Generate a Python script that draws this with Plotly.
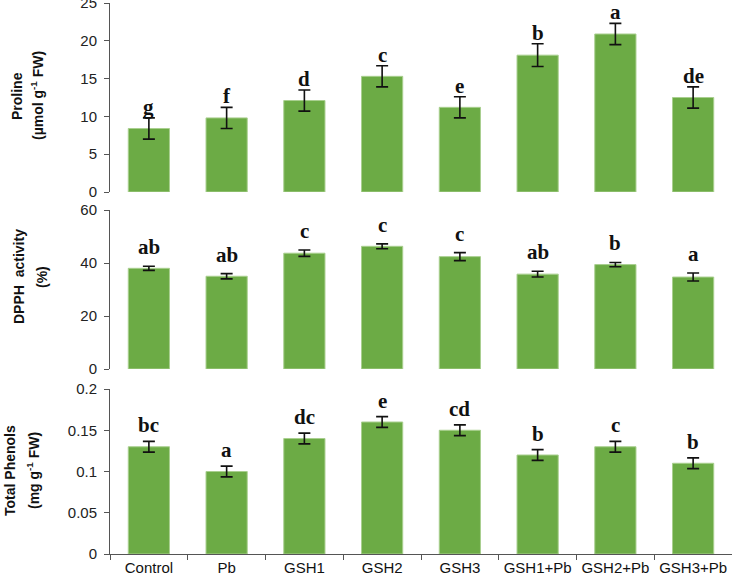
import plotly.graph_objects as go
from plotly.subplots import make_subplots

categories = ["Control", "Pb", "GSH1", "GSH2", "GSH3", "GSH1+Pb", "GSH2+Pb", "GSH3+Pb"]

proline = [8.4, 9.8, 12.1, 15.3, 11.2, 18.1, 20.9, 12.5]
proline_err = [1.4, 1.4, 1.4, 1.4, 1.4, 1.5, 1.4, 1.4]
proline_letters = ["g", "f", "d", "c", "e", "b", "a", "de"]

dpph = [38.0, 35.0, 43.7, 46.3, 42.4, 35.8, 39.4, 34.7]
dpph_err = [0.8, 1.0, 1.2, 0.9, 1.5, 1.1, 0.8, 1.5]
dpph_letters = ["ab", "ab", "c", "c", "c", "ab", "b", "a"]

phenols = [0.13, 0.10, 0.14, 0.16, 0.15, 0.12, 0.13, 0.11]
phenols_err = [0.0065, 0.0065, 0.0065, 0.0065, 0.0065, 0.0065, 0.0065, 0.0065]
phenols_letters = ["bc", "a", "dc", "e", "cd", "b", "c", "b"]

W, H = 732, 583
ml, mr, mt, mb = 110, 0, 3, 29
ph = H - mt - mb

def frac(p):
    return (H - mb - p) / ph

fig = make_subplots(rows=3, cols=1, shared_xaxes=False, vertical_spacing=0.03)

panels = [
    (proline, proline_err, proline_letters, [0, 25], 5, (3, 192), -3),
    (dpph, dpph_err, dpph_letters, [0, 60], 20, (210, 369), 5),
    (phenols, phenols_err, phenols_letters, [0, 0.2], 0.05, (389, 554), 2),
]

bar_color = "#6cab45"
tick_font = dict(family="Liberation Sans, Arial, sans-serif", size=15, color="#222222")

for i, (vals, errs, letters, rng, dt, (ptop, pbot), yshift) in enumerate(panels):
    r = i + 1
    fig.add_trace(go.Bar(
        x=categories, y=vals,
        marker=dict(color=bar_color, line=dict(color="#a9cf8f", width=1)),
        error_y=dict(type="data", array=errs, visible=True, color="#111111",
                     thickness=1.6, width=6),
        showlegend=False, width=0.53, hoverinfo="skip",
    ), row=r, col=1)
    yname = "yaxis" if r == 1 else f"yaxis{r}"
    xname = "xaxis" if r == 1 else f"xaxis{r}"
    fig.layout[yname].update(
        domain=[frac(pbot), frac(ptop)], range=rng, dtick=dt,
        showline=True, linecolor="#555555", linewidth=1,
        ticks="outside", ticklen=5, tickcolor="#555555",
        showgrid=False, zeroline=False, tickfont=tick_font,
        ticklabelstandoff=4, automargin=False, ticklabeloverflow="allow",
    )
    is_bottom = (r == 3)
    fig.layout[xname].update(
        showline=is_bottom, linecolor="#555555", linewidth=1,
        ticks="outside" if is_bottom else "", tickson="boundaries",
        ticklen=5, tickcolor="#555555",
        showticklabels=is_bottom, showgrid=False, zeroline=False,
        tickfont=dict(family="Liberation Sans, Arial, sans-serif", size=15, color="#111111"),
        range=[-0.5, 7.5], automargin=False, ticklabeloverflow="allow",
    )
    xref = "x" if r == 1 else f"x{r}"
    yref = "y" if r == 1 else f"y{r}"
    for c, v, e, t in zip(categories, vals, errs, letters):
        fig.add_annotation(
            x=c, y=v + e, xref=xref, yref=yref, text=f"<b>{t}</b>",
            showarrow=False, yanchor="bottom", yshift=yshift,
            font=dict(family="Liberation Serif, Times New Roman, serif", size=21, color="#111111"),
        )

title_font = dict(family="Liberation Sans, Arial, sans-serif", size=14, color="#111111")
titles = [
    ("<b>Proline</b>", 17, 96),
    ("<b>(µmol g<sup>-1</sup> FW)</b>", 37, 96),
    ("<b>DPPH  activity</b>", 19, 277),
    ("<b>(%)</b>", 42, 277),
    ("<b>Total Phenols</b>", 10, 471),
    ("<b>(mg g<sup>-1</sup> FW)</b>", 33, 471),
]
for txt, px, py in titles:
    fig.add_annotation(
        x=0, y=frac(py), xref="paper", yref="paper", xshift=px - ml,
        text=txt, textangle=-90, showarrow=False,
        xanchor="center", yanchor="middle", font=title_font,
    )

fig.update_layout(
    width=W, height=H,
    margin=dict(l=ml, r=mr, t=mt, b=mb, autoexpand=False),
    paper_bgcolor="white", plot_bgcolor="white",
    bargap=0.47, hovermode=False,
)

fig.write_html("out.html", config={"displayModeBar": False},
               post_script="document.body.style.margin='0';document.body.style.overflow='hidden';")
